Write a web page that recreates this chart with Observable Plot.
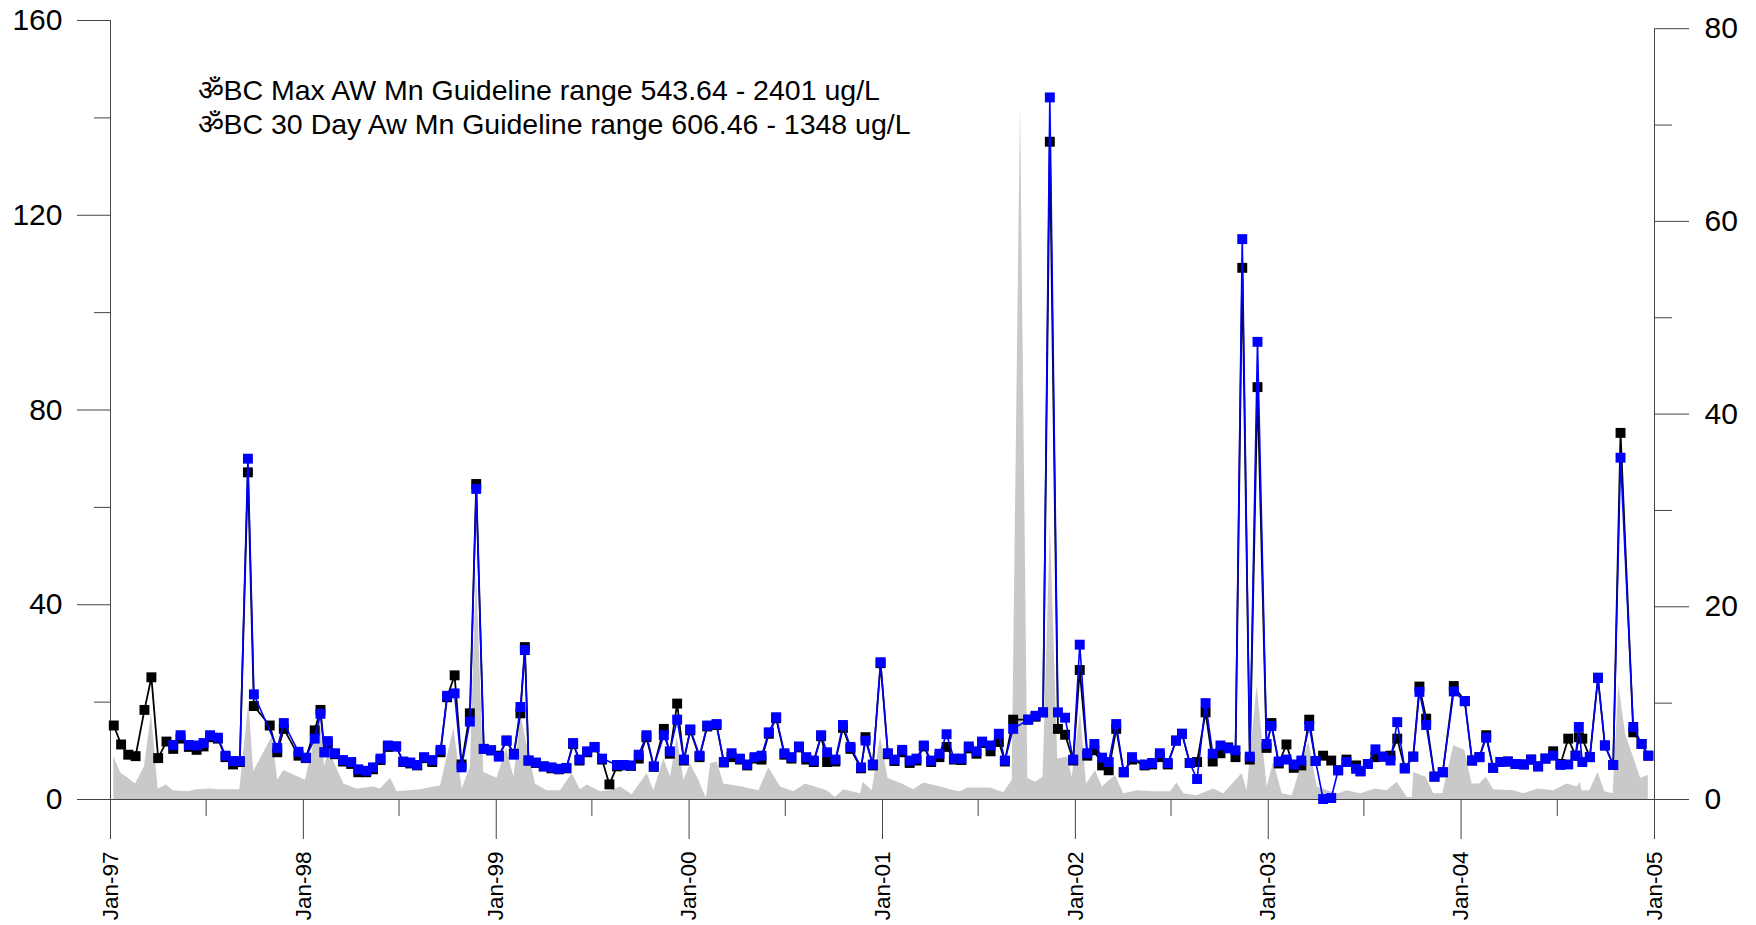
<!DOCTYPE html>
<html><head><meta charset="utf-8">
<script src="https://cdn.jsdelivr.net/npm/d3@7"></script>
<script src="https://cdn.jsdelivr.net/npm/@observablehq/plot@0.6"></script>
<style>
html,body{margin:0;padding:0;background:#fff;}
#chart{width:1756px;height:925px;}
</style></head>
<body><div id="chart"></div>
<script>
// sample dates as decimal years
const sampleYear = [
1997.017,1997.055,1997.092,1997.130,1997.176,1997.212,1997.247,1997.290,1997.325,1997.363,
1997.406,1997.446,1997.482,1997.516,1997.556,1997.596,1997.635,1997.670,1997.712,1997.743,
1997.825,1997.864,1997.898,1997.974,1998.012,1998.058,1998.088,1998.109,1998.126,1998.163,
1998.205,1998.247,1998.284,1998.325,1998.360,1998.399,1998.437,1998.480,1998.517,1998.553,
1998.589,1998.625,1998.667,1998.710,1998.744,1998.783,1998.819,1998.862,1998.895,1998.934,
1998.972,1999.012,1999.052,1999.090,1999.124,1999.147,1999.166,1999.204,1999.245,1999.285,
1999.323,1999.362,1999.397,1999.430,1999.470,1999.508,1999.547,1999.585,1999.624,1999.659,
1999.697,1999.737,1999.777,1999.815,1999.867,1999.898,1999.936,1999.971,2000.004,2000.052,
2000.092,2000.140,2000.178,2000.218,2000.261,2000.299,2000.337,2000.373,2000.411,2000.449,
2000.492,2000.528,2000.567,2000.605,2000.644,2000.682,2000.713,2000.756,2000.795,2000.834,
2000.889,2000.912,2000.950,2000.990,2001.028,2001.062,2001.102,2001.141,2001.176,2001.214,
2001.252,2001.295,2001.332,2001.370,2001.409,2001.447,2001.487,2001.516,2001.560,2001.603,
2001.634,2001.677,2001.755,2001.793,2001.832,2001.867,2001.909,2001.946,2001.988,2002.022,
2002.061,2002.098,2002.138,2002.172,2002.211,2002.250,2002.293,2002.358,2002.397,2002.437,
2002.478,2002.521,2002.552,2002.592,2002.630,2002.674,2002.711,2002.751,2002.791,2002.829,
2002.864,2002.903,2002.943,2002.990,2003.015,2003.053,2003.093,2003.131,2003.170,2003.211,
2003.244,2003.283,2003.325,2003.361,2003.404,2003.454,2003.477,2003.515,2003.554,2003.594,
2003.632,2003.667,2003.706,2003.750,2003.782,2003.817,2003.860,2003.903,2003.960,2004.017,
2004.055,2004.093,2004.128,2004.164,2004.202,2004.240,2004.280,2004.323,2004.361,2004.397,
2004.435,2004.475,2004.513,2004.553,2004.591,2004.608,2004.626,2004.665,2004.707,2004.743,
2004.786,2004.824,2004.890,2004.933,2004.968
];
// BC Max AW Mn (black), left axis
const maxMn = [
15.2,11.3,9.2,8.9,18.4,25.1,8.5,11.9,10.4,12.5,
10.8,10.2,10.9,12.8,12.5,8.7,7.2,7.7,67.2,19.2,
15.2,9.7,14.5,9.0,8.5,14.2,18.4,9.7,11.5,9.3,
7.8,7.3,5.6,5.6,6.2,8.1,10.8,10.9,7.7,7.4,
7.0,8.5,7.7,9.7,21.0,25.5,7.2,17.7,64.8,10.4,
10.1,9.0,12.1,9.4,17.7,31.3,8.0,7.5,6.8,6.4,
6.2,6.4,11.4,8.0,9.7,10.7,8.2,3.1,6.8,7.0,
6.9,8.4,12.8,6.7,14.5,9.4,19.7,8.0,14.2,8.7,
15.0,15.3,7.6,8.7,8.2,7.0,8.4,8.2,13.5,16.7,
9.2,8.4,10.7,8.2,7.7,13.0,7.7,7.8,14.7,10.4,
6.4,12.8,7.0,28.0,9.3,7.9,9.7,7.5,8.0,10.9,
7.7,8.7,10.8,8.2,8.1,10.5,9.4,11.6,9.9,11.8,
7.8,16.4,16.4,17.0,17.9,135.1,14.5,13.3,8.0,26.6,
9.0,10.1,7.0,6.0,14.5,5.6,8.2,7.0,7.2,8.7,
7.2,12.1,13.5,7.5,7.7,17.9,7.8,9.5,10.7,8.7,
109.2,8.2,84.7,10.6,15.7,7.4,11.3,6.5,7.0,16.4,
7.9,9.0,8.0,6.0,8.2,7.0,5.8,7.3,8.7,8.8,
9.0,12.5,6.4,8.8,23.2,16.6,4.7,5.6,23.3,20.2,
8.0,8.7,13.2,6.5,7.7,7.8,7.3,7.2,8.2,6.8,
8.4,9.9,7.3,12.5,9.0,12.8,12.5,8.7,25.0,11.1,
7.1,75.3,13.8,11.4,9.0
];
// BC 30 Day Aw Mn (blue), left axis; null = no sample
const avgMn = [
null,null,null,null,null,null,null,null,11.2,13.2,
11.2,11.1,11.6,13.2,12.7,9.0,7.9,7.9,70.0,21.6,
null,10.6,15.7,9.8,8.6,12.5,17.6,9.7,12.0,9.5,
8.1,7.7,6.2,5.9,6.6,8.4,11.1,10.9,7.8,7.6,
7.1,8.7,8.1,10.2,21.3,21.8,6.6,16.0,63.8,10.4,
10.1,8.8,12.1,9.2,19.0,30.7,8.0,7.6,6.8,6.6,
6.3,6.5,11.6,8.2,9.9,10.8,8.4,null,7.1,7.1,
7.0,9.2,13.2,6.8,13.2,9.9,16.4,8.2,14.4,9.0,
15.2,15.5,7.7,9.5,8.4,7.2,8.7,9.0,13.8,16.9,
9.5,8.7,10.9,8.7,8.0,13.2,9.7,8.2,15.3,10.8,
6.6,12.1,7.2,28.2,9.5,8.2,10.2,8.0,8.4,11.1,
8.0,9.4,13.4,8.4,8.4,10.9,9.9,11.9,11.1,13.5,
8.0,14.5,16.4,17.2,17.9,144.2,17.9,16.8,8.2,31.8,
9.5,11.4,8.6,7.7,15.5,5.6,8.7,7.2,7.5,9.5,
7.5,12.1,13.5,7.5,4.2,19.8,9.4,11.1,10.5,10.1,
115.1,8.8,94.0,11.4,15.1,7.8,8.2,7.2,8.0,15.1,
7.9,0.1,0.3,6.0,7.7,6.3,5.8,7.3,10.3,8.8,
8.0,15.9,6.4,8.8,22.1,15.3,4.7,5.6,22.2,20.2,
8.0,8.7,12.7,6.5,7.7,7.8,7.3,7.2,8.2,6.8,
8.4,9.0,7.1,7.2,9.0,14.9,7.7,8.7,25.0,11.1,
7.1,70.2,14.9,11.4,9.0
];
// grey area (right axis)
const flowYear = [
1997.017,1997.055,1997.092,1997.130,1997.176,1997.212,1997.247,1997.290,1997.325,1997.406,
1997.446,1997.518,1997.556,1997.670,1997.717,1997.742,1997.840,1997.866,1997.898,1998.010,
1998.062,1998.088,1998.109,1998.131,1998.209,1998.278,1998.364,1998.399,1998.451,1998.485,
1998.606,1998.675,1998.710,1998.779,1998.822,1998.865,1998.896,1998.934,1999.003,1999.052,
1999.090,1999.128,1999.202,1999.262,1999.332,1999.392,1999.435,1999.470,1999.539,1999.591,
1999.643,1999.703,1999.781,1999.815,1999.867,1999.902,1999.936,1999.971,2000.005,2000.048,
2000.088,2000.109,2000.143,2000.178,2000.273,2000.360,2000.411,2000.472,2000.541,2000.601,
2000.713,2000.756,2000.800,2000.886,2000.900,2000.947,2000.990,2001.028,2001.102,2001.161,
2001.214,2001.301,2001.370,2001.404,2001.442,2001.508,2001.560,2001.629,2001.672,2001.715,
2001.753,2001.793,2001.832,2001.870,2001.908,2001.960,2001.983,2002.026,2002.057,2002.104,
2002.138,2002.207,2002.250,2002.320,2002.405,2002.492,2002.526,2002.561,2002.630,2002.716,
2002.768,2002.863,2002.889,2002.941,2002.993,2003.027,2003.071,2003.123,2003.209,2003.252,
2003.321,2003.364,2003.408,2003.477,2003.554,2003.615,2003.667,2003.719,2003.745,2003.753,
2003.817,2003.856,2003.903,2003.960,2004.017,2004.055,2004.093,2004.128,2004.167,2004.271,
2004.323,2004.397,2004.478,2004.547,2004.599,2004.616,2004.624,2004.665,2004.707,2004.743,
2004.786,2004.815,2004.850,2004.928,2004.968
];
const flowValue = [
4.4,2.7,2.2,1.6,3.4,8.9,1.1,1.5,0.9,0.8,
1.0,1.1,1.0,1.0,10.1,2.9,6.6,2.0,3.0,2.0,
6.5,8.2,3.4,5.1,1.6,1.1,1.3,1.1,2.2,0.8,
1.0,1.3,1.4,7.4,1.1,3.4,23.7,2.8,2.2,5.3,
2.3,8.5,1.6,0.9,0.9,2.7,1.0,1.5,0.8,0.9,
1.3,0.5,2.7,0.9,4.2,2.3,6.5,2.0,3.7,2.0,
0.1,3.7,3.9,1.6,1.3,0.9,3.3,1.3,0.8,1.6,
0.9,0.2,1.0,0.6,1.8,0.9,6.5,2.2,1.6,1.0,
1.7,1.3,0.9,0.8,1.2,1.2,1.2,0.7,2.0,72.0,
2.2,1.8,2.3,28.4,4.2,4.4,2.3,9.1,1.6,3.0,
1.3,2.5,0.6,0.9,0.8,0.8,1.7,0.6,0.4,1.1,
0.6,2.7,0.9,11.8,1.3,3.9,0.6,0.4,6.0,1.3,
0.8,0.6,0.9,0.6,1.1,0.9,1.8,0.2,0.2,2.8,
2.3,0.6,0.6,5.6,5.1,1.6,1.6,2.3,1.0,0.9,
0.6,1.1,0.9,1.6,1.3,1.8,0.9,0.9,2.8,0.8,
0.6,11.9,6.8,2.2,2.5
];
const leftTicks = [0, 40, 80, 120, 160];
const leftMinor = [20, 60, 100, 140];
const rightTicks = [0, 20, 40, 60, 80];
const rightMinor = [10, 30, 50, 70];
const yearLabels = ["Jan-97","Jan-98","Jan-99","Jan-00","Jan-01","Jan-02","Jan-03","Jan-04","Jan-05"];
const legendLines = [
  "ॐBC Max AW Mn Guideline range 543.64 - 2401 ug/L",
  "ॐBC 30 Day Aw Mn Guideline range 606.46 - 1348 ug/L"
];

const K = 1.979; // one right-axis unit in left-axis units
const toDate = y => new Date(Date.UTC(1997, 0, 1) + (y - 1997) * 365.25 * 864e5);
const start = new Date(Date.UTC(1997, 0, 1));
const end = new Date(Date.UTC(2005, 0, 1));
const yearTicks = yearLabels.map((_, i) => new Date(Date.UTC(1997 + i, 0, 1)));
const julTicks = yearLabels.slice(0, -1).map((_, i) => new Date(Date.UTC(1997 + i, 6, 1)));

const samples = sampleYear.map((y, i) => ({date: toDate(y), max: maxMn[i], avg: avgMn[i]}));
const blackPts = samples.filter(d => d.max != null);
const bluePts = samples.filter(d => d.avg != null);
const flow = flowYear.map((y, i) => ({date: toDate(y), v: flowValue[i] * K}));

const chart = Plot.plot({
  width: 1756,
  height: 925,
  marginLeft: 110,
  marginRight: 102,
  marginTop: 20,
  marginBottom: 126,
  style: {fontFamily: "'Liberation Sans', Arial, sans-serif", background: "#fff", color: "#000"},
  x: {type: "utc", domain: [start, end]},
  y: {domain: [0, 160]},
  marks: [
    Plot.areaY(flow, {x: "date", y: "v", fill: "#c9c9c9"}),
    Plot.ruleY([0], {stroke: "#444"}),
    Plot.ruleX([start], {y1: 0, y2: 160, stroke: "#444"}),
    Plot.ruleX([end], {y1: 0, y2: 80 * K, stroke: "#444"}),
    Plot.line(blackPts, {x: "date", y: "max", stroke: "#000", strokeWidth: 1.8}),
    Plot.dot(blackPts, {x: "date", y: "max", symbol: "square", r: 5.6, fill: "#000", stroke: "none"}),
    Plot.line(bluePts, {x: "date", y: "avg", stroke: "#0000ff", strokeWidth: 1.6}),
    Plot.dot(bluePts, {x: "date", y: "avg", symbol: "square", r: 5.6, fill: "#0000ff", stroke: "none"}),
    Plot.axisY({anchor: "left", ticks: leftTicks, tickSize: 33, tickPadding: 15, fontSize: 30, label: null, stroke: "#444"}),
    Plot.axisY({anchor: "left", ticks: leftMinor, tickSize: 16, tickFormat: () => "", label: null, stroke: "#444"}),
    Plot.axisY({anchor: "right", ticks: rightTicks.map(v => v * K), tickFormat: v => String(Math.round(v / K)), tickSize: 34, tickPadding: 16, fontSize: 30, label: null, stroke: "#444"}),
    Plot.axisY({anchor: "right", ticks: rightMinor.map(v => v * K), tickFormat: () => "", tickSize: 17, label: null, stroke: "#444"}),
    Plot.axisX({ticks: yearTicks, tickFormat: (d, i) => yearLabels[i], tickSize: 40, tickPadding: 12, tickRotate: -90, fontSize: 22.5, label: null, stroke: "#444"}),
    Plot.axisX({ticks: julTicks, tickFormat: () => "", tickSize: 17, label: null, stroke: "#444"}),
    Plot.text([legendLines.join("\n")], {frameAnchor: "top-left", textAnchor: "start", lineAnchor: "top", dx: 87, dy: 56, fontSize: 28.5, lineHeight: 1.18, fill: "#000"})
  ]
});
document.getElementById("chart").appendChild(chart);
</script>
</body></html>
